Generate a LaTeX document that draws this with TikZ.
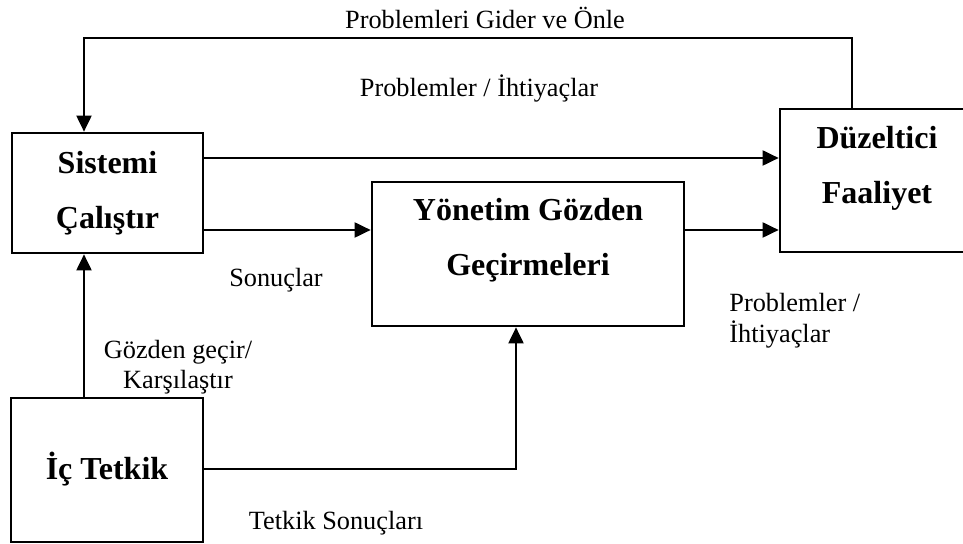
\documentclass[tikz,border=0pt]{standalone}
\usepackage{fontspec}
\setmainfont{Liberation Serif}
\usetikzlibrary{arrows.meta}
\tikzset{
    kutu/.style = {rectangle, draw=black, line width=1.35pt, inner sep=0pt},
    kutuyazi/.style = {align=center, inner sep=0pt, font=\fontsize{16}{27.5}\selectfont\bfseries},
    etiket/.style = {align=center, inner sep=0pt, font=\fontsize{13.15}{15.3}\selectfont},
    ok/.style = {-{Triangle[length=8pt,width=7.5pt]}, line width=1pt},
    cizgi/.style = {line width=1pt}
}

\begin{document}
\begin{tikzpicture}[x=0.5pt,y=-0.5pt]
  \useasboundingbox (0,0) rectangle (963,544);

  % kutular
  \node[kutu, minimum width=95.5pt, minimum height=60pt] (sistemi) at (107.5,193) {};
  \node[kutuyazi] (sistemiyazi) at (107.5,193) {Sistemi\\Çalıştır};
  \node[kutu, minimum width=97pt, minimum height=71.5pt] (duzeltici) at (877,180.5) {};
  \node[kutuyazi] (duzelticiyazi) at (877,168.5) {Düzeltici\\Faaliyet};
  \node[kutu, minimum width=156pt, minimum height=72pt] (yonetim) at (528,254) {};
  \node[kutuyazi] (yonetimyazi) at (528,240) {Yönetim Gözden\\Geçirmeleri};
  \node[kutu, minimum width=96pt, minimum height=72pt] (ictetkik) at (107,470) {};
  \node[kutuyazi] (ictetkikyazi) at (107,469) {İç Tetkik};

  % yardimci noktalar
  \coordinate (ustsag) at (852,38);
  \coordinate (ustsol) at (84,38);
  \coordinate (ust) at (0,158);
  \coordinate (orta) at (0,230);
  \coordinate (yalt) at (516,469);

  % baglantilar
  \draw[ok] (duzeltici.north -| ustsag) -- (ustsag) -- (ustsol) -- (sistemi.north -| ustsol);
  \draw[ok] (sistemi.east |- ust) -- (duzeltici.west |- ust);
  \draw[ok] (sistemi.east |- orta) -- (yonetim.west |- orta);
  \draw[ok] (yonetim.east |- orta) -- (duzeltici.west |- orta);
  \draw[ok] (ictetkik.north -| ustsol) -- (sistemi.south -| ustsol);
  \draw[ok] (ictetkik.east |- yalt) -- (yalt) -- (yonetim.south -| yalt);

  % etiketler
  \node[etiket] (gider) at (485,18) {Problemleri Gider ve Önle};
  \node[etiket] (ihtiyac) at (479,88) {Problemler / İhtiyaçlar};
  \node[etiket] (sonuclar) at (276,280) {Sonuçlar};
  \node[etiket, align=left, anchor=west] (ihtiyac2) at (729,321) {Problemler /\\İhtiyaçlar};
  \node[etiket] (gozden) at (178,367) {Gözden geçir/\\Karşılaştır};
  \node[etiket] (tetkiksonuc) at (336,523) {Tetkik Sonuçları};
\end{tikzpicture}
\end{document}
